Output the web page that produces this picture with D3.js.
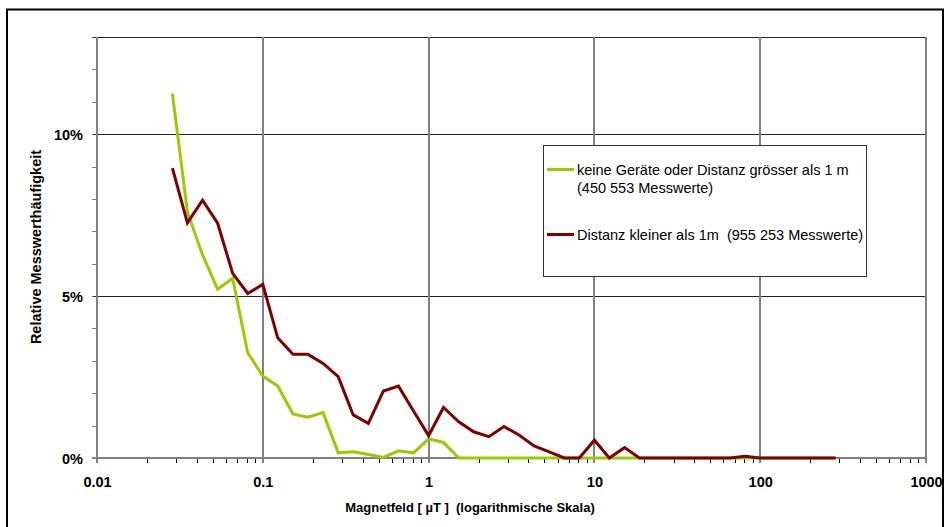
<!DOCTYPE html>
<html><head><meta charset="utf-8">
<script src="https://cdn.jsdelivr.net/npm/d3@7"></script>
<style>body{margin:0;background:#fff}svg{display:block}text{font-family:Arial,"Liberation Sans",sans-serif;fill:#000;white-space:pre}</style>
</head><body><svg id="c" width="949" height="527"></svg>
<script>
// Magnetic field bins (µT), log-spaced
const fieldValues = [0.0285,0.0351,0.0433,0.0534,0.0658,0.0811,0.1,0.123,0.152,0.187,0.231,0.285,0.351,0.433,0.534,0.658,0.811,1,1.23,1.52,1.87,2.31,2.85,3.51,4.33,5.34,6.58,8.11,10,12.3,15.2,18.7,23.1,28.5,35.1,43.3,53.4,65.8,81.1,100,123,152,187,231,285];
// Relative frequency (%) - no devices or distance > 1 m
const greenValues = [11.25,7.6,6.27,5.21,5.55,3.25,2.53,2.22,1.36,1.26,1.40,0.16,0.19,0.11,0.02,0.22,0.16,0.59,0.48,0,0,0,0,0,0,0,0,0,0,0,0,0,0,0,0,0,0,0,0,0,0,0,0,0,0];
// Relative frequency (%) - distance < 1 m
const redValues = [8.95,7.26,7.96,7.25,5.70,5.08,5.36,3.71,3.20,3.20,2.92,2.51,1.33,1.07,2.07,2.22,1.45,0.69,1.56,1.12,0.81,0.66,0.97,0.71,0.37,0.19,0,0,0.55,0,0.32,0,0,0,0,0,0,0,0.05,0,0,0,0,0,0];
const seriesNames = ["keine Geräte oder Distanz grösser als 1 m", "Distanz kleiner als 1m  (955 253 Messwerte)"];
const seriesSub = ["(450 553 Messwerte)", ""];
const seriesColors = ["#99CC00", "#800000"];
const xTickValues = [0.01,0.1,1,10,100,1000];
const xTickLabels = ["0.01","0.1","1","10","100","1000"];
const yTickValues = [0,5,10];
const yTickLabels = ["0%","5%","10%"];
const xTitle = "Magnetfeld [ µT ]  (logarithmische Skala)";
const yTitle = "Relative Messwerthäufigkeit";

const svg = d3.select("#c");
const L = 97, R = 926, T = 37, B = 458;
const x = d3.scaleLog().domain([0.01, 1000]).range([L, R]);
const y = d3.scaleLinear().domain([0, 13]).range([B, T]);

// outer frame
svg.append("rect").attr("x", 7).attr("y", 9.5).attr("width", 936).attr("height", 540)
  .attr("fill", "none").attr("stroke", "#000").attr("stroke-width", 2);

// minor x ticks
const minorX = x.ticks().filter(v => !xTickValues.includes(v));
svg.append("g").selectAll("line").data(minorX).join("line")
  .attr("x1", d => Math.round(x(d)) + 0.5).attr("x2", d => Math.round(x(d)) + 0.5)
  .attr("y1", B).attr("y2", B + 5).attr("stroke", "#000").attr("stroke-width", 1);
// minor y ticks
svg.append("g").selectAll("line").data(d3.range(0, 14)).join("line")
  .attr("x1", L - 5).attr("x2", L).attr("y1", d => Math.round(y(d)) + 0.5).attr("y2", d => Math.round(y(d)) + 0.5)
  .attr("stroke", "#808080").attr("stroke-width", 1);

// horizontal gridlines
svg.append("g").selectAll("line").data([5, 10, 13]).join("line")
  .attr("x1", L - 4).attr("x2", R).attr("y1", d => Math.round(y(d)) + 0.5).attr("y2", d => Math.round(y(d)) + 0.5)
  .attr("stroke", "#222").attr("stroke-width", 1);
// vertical gridlines
svg.append("g").selectAll("line").data(xTickValues).join("line")
  .attr("x1", d => Math.round(x(d))).attr("x2", d => Math.round(x(d)))
  .attr("y1", T).attr("y2", B + 5).attr("stroke", "#808080").attr("stroke-width", 2);
// axis lines
svg.append("line").attr("x1", L).attr("x2", L).attr("y1", T).attr("y2", B + 1).attr("stroke", "#808080").attr("stroke-width", 2);
svg.append("line").attr("x1", L - 5).attr("x2", R + 1).attr("y1", B).attr("y2", B).attr("stroke", "#808080").attr("stroke-width", 2);

// tick labels via d3 axes
const xAxis = d3.axisBottom(x).tickValues(xTickValues).tickFormat((d, i) => xTickLabels[i]).tickSize(0).tickPadding(0);
const gx = svg.append("g").attr("transform", `translate(0,${B})`).call(xAxis);
gx.select(".domain").remove();
gx.selectAll("text").attr("dy", null).attr("y", 29).style("font-size", "14.5px").style("font-weight", "bold")
  .style("font-family", "Arial, 'Liberation Sans', sans-serif").attr("fill", "#000");

const yAxis = d3.axisLeft(y).tickValues(yTickValues).tickFormat((d, i) => yTickLabels[i]).tickSize(0).tickPadding(0);
const gy = svg.append("g").attr("transform", `translate(83,0)`).call(yAxis);
gy.select(".domain").remove();
gy.selectAll("text").attr("dy", "0.36em").style("font-size", "14.5px").style("font-weight", "bold")
  .style("font-family", "Arial, 'Liberation Sans', sans-serif").attr("fill", "#000");

// series lines
const line = d3.line().x((d, i) => x(fieldValues[i])).y(d => y(d));
[greenValues, redValues].forEach((vals, si) => {
  svg.append("path").datum(vals).attr("d", line).attr("fill", "none")
    .attr("stroke", seriesColors[si]).attr("stroke-width", 3).attr("stroke-linejoin", "miter");
});

// axis titles
svg.append("text").attr("x", 470).attr("y", 512).attr("text-anchor", "middle")
  .style("font-size", "13px").style("font-weight", "bold").text(xTitle);
svg.append("text").attr("transform", "translate(41,247) rotate(-90)").attr("text-anchor", "middle")
  .style("font-size", "14.5px").style("font-weight", "bold").text(yTitle);

// legend
const lg = svg.append("g");
lg.append("rect").attr("x", 543.5).attr("y", 145.5).attr("width", 323).attr("height", 131)
  .attr("fill", "#fff").attr("stroke", "#333").attr("stroke-width", 1);
const legY = [169.5, 234.5];
seriesNames.forEach((nm, i) => {
  lg.append("line").attr("x1", 547).attr("x2", 574).attr("y1", legY[i]).attr("y2", legY[i])
    .attr("stroke", seriesColors[i]).attr("stroke-width", 3);
  lg.append("text").attr("x", 577).attr("y", legY[i] + 5).style("font-size", "14.5px").text(nm);
  if (seriesSub[i]) lg.append("text").attr("x", 577).attr("y", legY[i] + 23).style("font-size", "14.5px").text(seriesSub[i]);
});
</script></body></html>
